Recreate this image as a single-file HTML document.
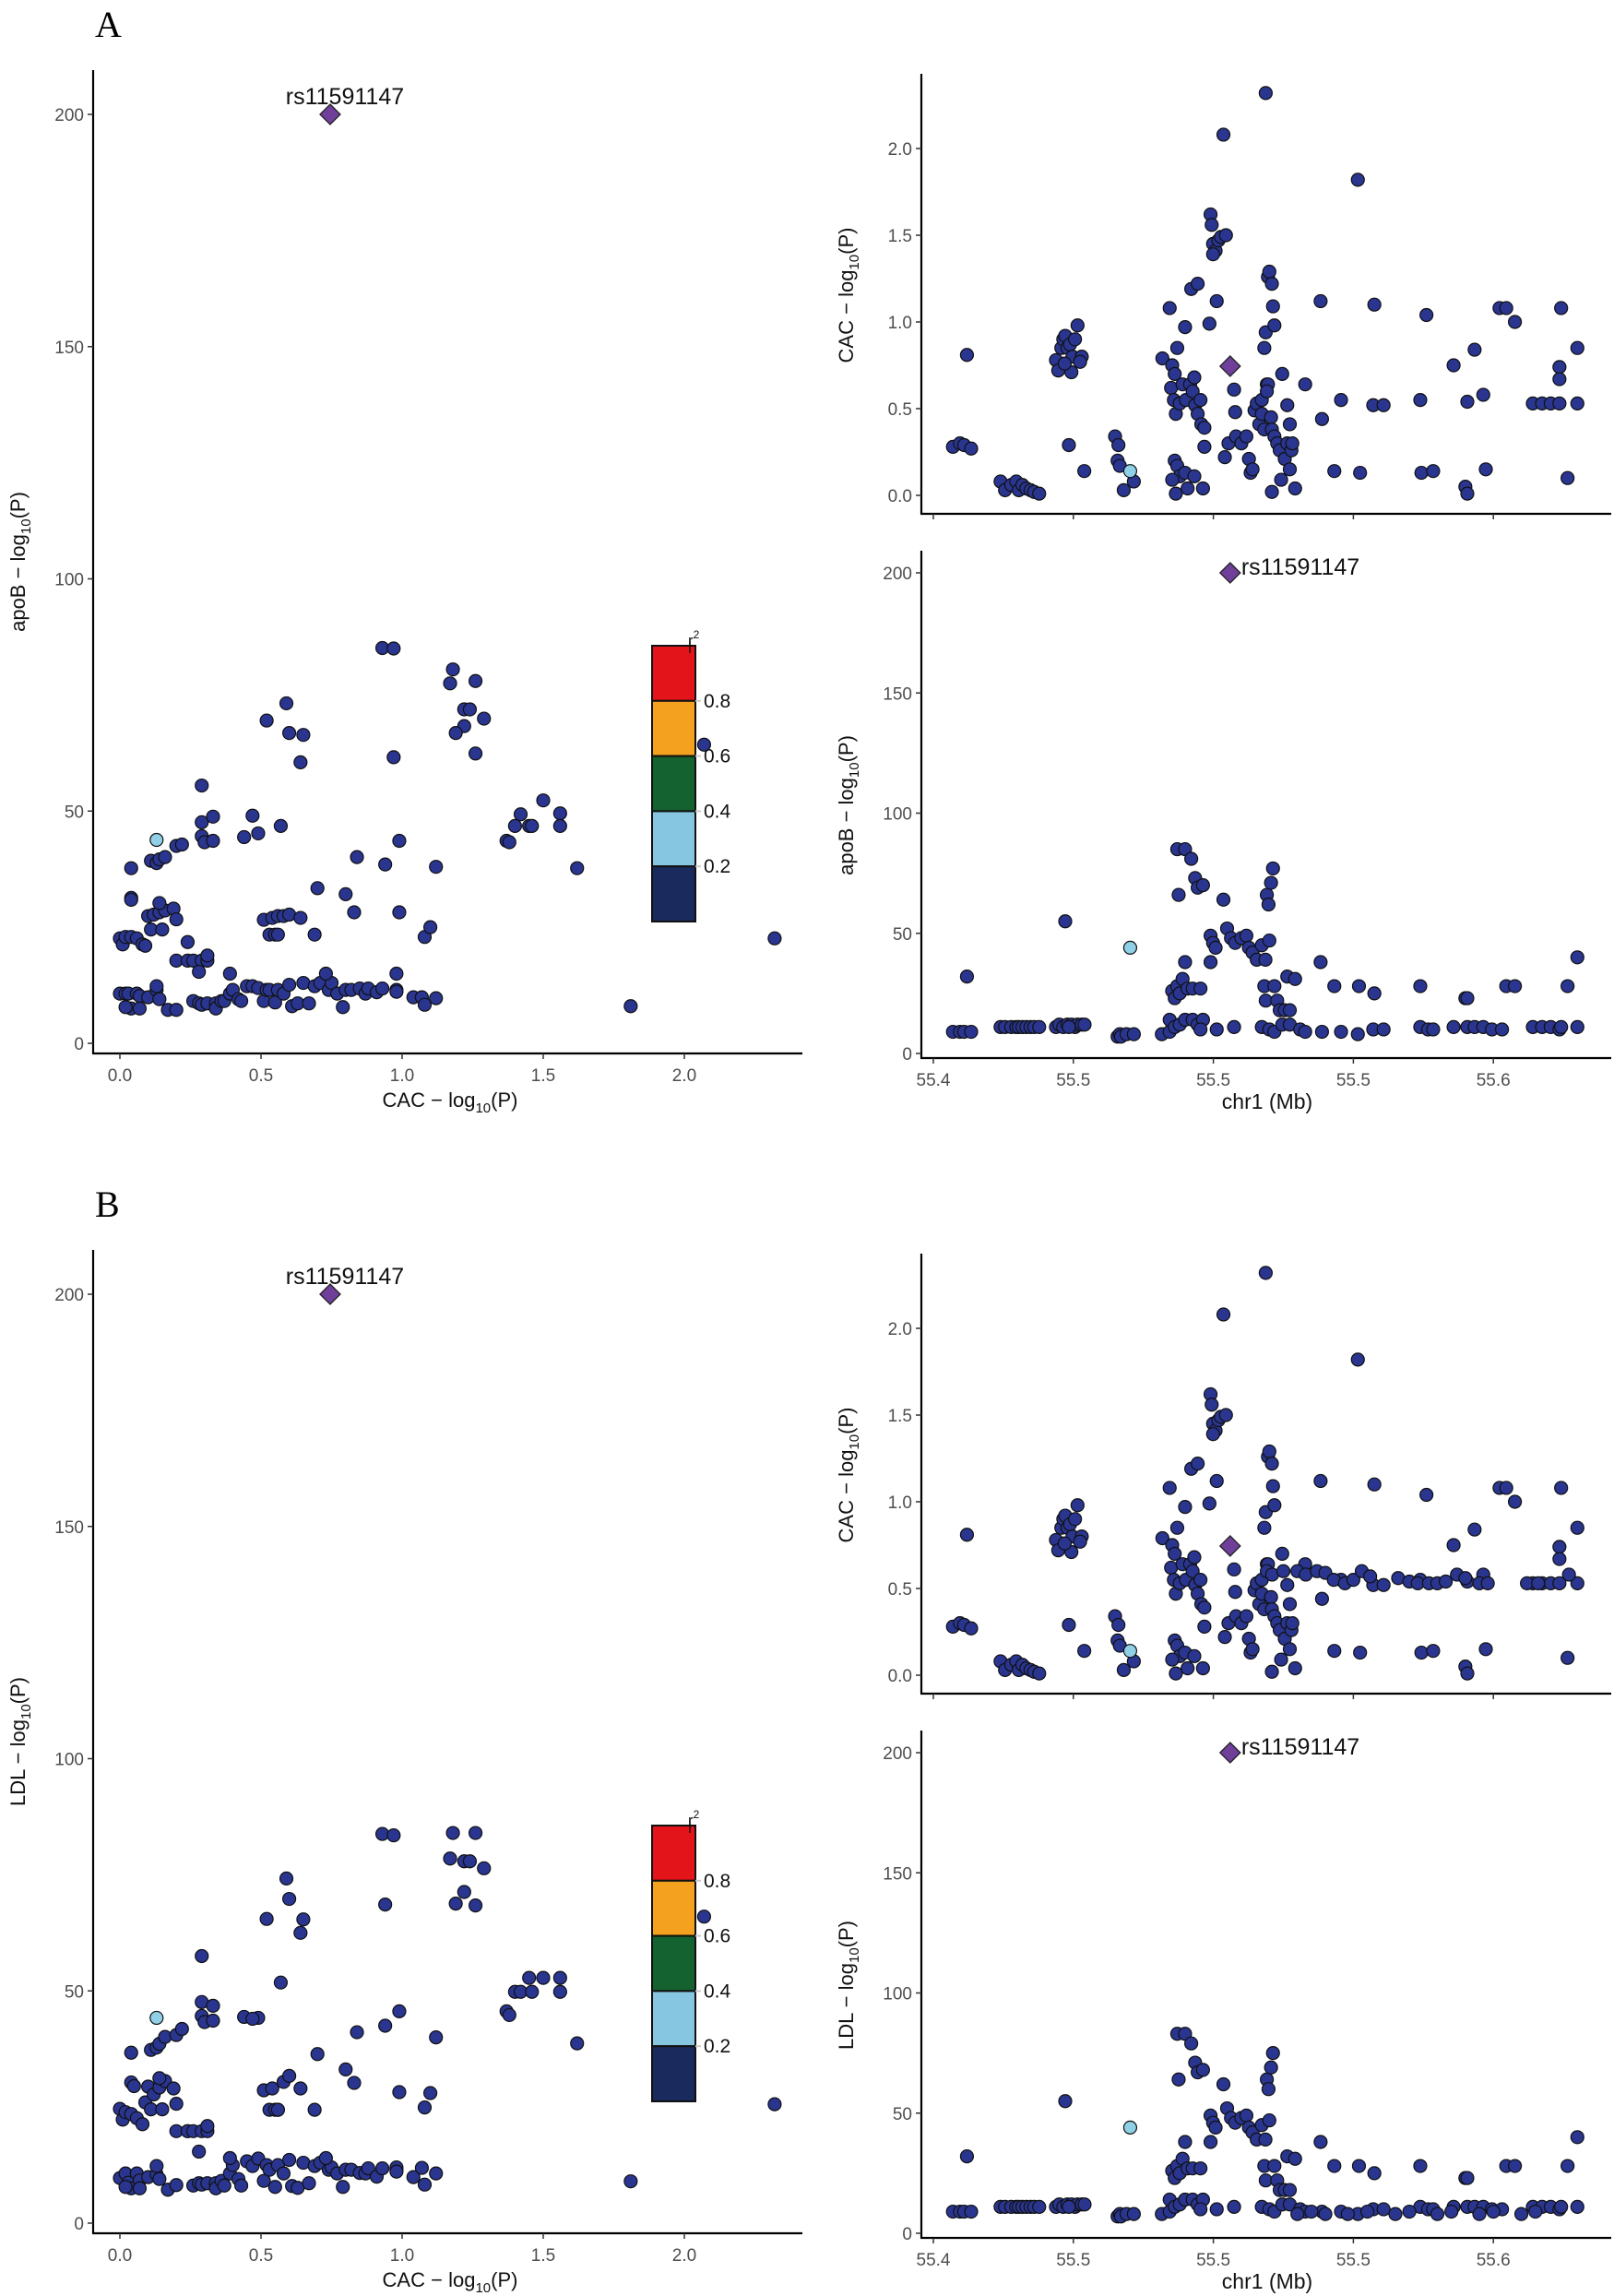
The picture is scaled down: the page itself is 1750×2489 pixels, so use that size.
<!DOCTYPE html>
<html><head><meta charset="utf-8"><style>
html,body{margin:0;padding:0;background:#fff}
svg{display:block}
text{font-family:"Liberation Sans",sans-serif}
</style></head>
<body>
<svg id="fig" width="1750" height="2489" viewBox="0 0 1750 2489" xmlns="http://www.w3.org/2000/svg"></svg>
<script>
// ---------------- DATA ----------------
// Panel A left: CAC -log10(P) vs apoB -log10(P)
const scatterA = [
[0,22.6],[0.01,21.3],[0.02,22.9],[0.04,22.9],[0.06,22.6],[0.08,21.3],[0.09,21],
[0.04,37.7],[0.04,31.3],[0.04,30.9],
[0,10.7],[0.02,10.7],[0.03,10.7],[0.04,7.5],[0.06,10.7],[0.07,10.2],[0.1,9.9],[0.07,7.5],[0.13,11.5],[0.14,9.5],[0.02,7.8],
[0.11,39.3],[0.13,38.8],[0.14,39.6],[0.16,40.1],
[0.1,27.4],[0.12,27.7],[0.14,28.2],[0.16,28.6],[0.14,30.2],[0.19,29],[0.2,26.7],[0.11,24.5],[0.15,24.5],
[0.2,42.5],[0.22,42.8],
[0.13,12.3],[0.17,7.2],[0.2,7.2],[0.24,21.8],[0.2,17.8],[0.24,17.8],[0.26,17.8],[0.29,17.8],[0.31,17.8],[0.31,18.9],[0.28,15.4],
[0.29,55.5],[0.29,47.6],[0.29,44.6],[0.3,43.3],[0.33,48.8],[0.33,43.6],
[0.26,9.1],[0.28,8.6],[0.29,8.3],[0.31,8.6],[0.34,8.6],[0.34,7.5],[0.36,9.1],[0.37,9.1],[0.39,10.7],[0.4,11.5],[0.42,9.5],[0.43,9.1],
[0.45,12.3],[0.47,12.3],[0.49,11.9],[0.51,9.1],[0.52,11.5],[0.53,11.5],[0.55,8.8],[0.56,11.5],[0.58,10.7],[0.6,12.6],[0.61,8],[0.63,8.6],
[0.65,13],[0.67,8.6],[0.69,12.3],[0.71,13],[0.74,11.5],[0.75,13],[0.77,10.7],[0.79,7.8],[0.8,11.5],[0.82,11.5],[0.85,11.8],[0.87,10.7],
[0.88,11.8],[0.91,11],[0.93,11.8],[0.98,11.5],[0.98,15],[0.98,11.1],[1.04,9.9],[1.07,9.9],[1.08,8.3],[1.12,9.7],[0.39,15],[0.73,15],
[0.51,26.6],[0.54,27],[0.56,27.4],[0.58,27.4],[0.6,27.7],[0.64,27],[0.53,23.4],[0.55,23.4],[0.56,23.4],[0.69,23.4],[0.7,33.4],[0.8,32.1],
[0.83,28.2],[0.84,40.1],[0.94,38.5],[0.99,28.2],[0.99,43.6],[1.08,22.9],[1.1,25],[1.12,38],[0.97,61.6],
[0.44,44.4],[0.49,45.2],[0.47,49],[0.57,46.8],
[0.52,69.5],[0.59,73.2],[0.6,66.8],[0.65,66.4],[0.64,60.5],[0.93,85.1],[0.97,85],
[1.18,80.5],[1.17,77.5],[1.26,78],[1.22,71.9],[1.24,71.9],[1.29,69.9],[1.22,68.3],[1.19,66.8],[1.26,62.4],
[1.37,43.6],[1.38,43.3],[1.4,46.8],[1.42,49.3],[1.45,46.8],[1.46,46.8],[1.5,52.3],[1.56,49.5],[1.56,46.8],[1.62,37.7],
[1.81,8],[2.07,64.3],[2.32,22.6]
];
const scatterALight = [[0.13,43.8]];
// Panel B left: CAC vs LDL
const scatterB = [
[0,24.6],[0.01,22.3],[0.02,23.9],[0.04,23.5],[0.06,22.6],[0.08,21.3],[0.09,26],
[0.04,36.7],[0.04,30.3],[0.05,29.5],
[0,9.7],[0.02,10.7],[0.03,8.7],[0.04,7.5],[0.06,10.7],[0.07,9.2],[0.1,9.9],[0.07,7.5],[0.13,10.5],[0.14,9.5],[0.02,7.8],
[0.11,37.3],[0.13,37.8],[0.14,38.6],[0.16,40.1],
[0.1,29.4],[0.12,27.7],[0.14,29.2],[0.16,30.6],[0.14,31.2],[0.19,29],[0.2,25.7],[0.11,24.5],[0.15,24.5],
[0.2,40.5],[0.22,41.8],
[0.13,12.3],[0.17,7.2],[0.2,8.2],[0.24,19.8],[0.2,19.8],[0.24,19.8],[0.26,19.8],[0.29,19.8],[0.31,19.8],[0.31,20.9],[0.28,15.4],
[0.29,57.5],[0.29,47.6],[0.29,44.6],[0.3,43.3],[0.33,46.8],[0.33,43.6],
[0.26,8.1],[0.28,8.6],[0.29,8.3],[0.31,8.6],[0.34,8.6],[0.34,7.5],[0.36,9.1],[0.37,8.1],[0.39,10.7],[0.4,12.5],[0.42,9.5],[0.43,8.1],
[0.45,13.3],[0.47,12.3],[0.49,13.9],[0.51,9.1],[0.52,12.5],[0.53,11.5],[0.55,7.8],[0.56,12.5],[0.58,10.7],[0.6,13.6],[0.61,8],[0.63,7.6],
[0.65,13],[0.67,8.6],[0.69,12.3],[0.71,13],[0.74,11.5],[0.75,12],[0.77,10.7],[0.79,7.8],[0.8,11.5],[0.82,11.5],[0.85,10.8],[0.87,10.7],
[0.88,11.8],[0.91,10],[0.93,11.8],[0.98,11.5],[0.98,12],[0.98,11.1],[1.04,9.9],[1.07,11.9],[1.08,8.3],[1.12,10.7],[0.39,14],[0.73,14],
[0.51,28.6],[0.54,29],[0.56,24.4],[0.58,30.4],[0.6,31.7],[0.64,29],[0.53,24.4],[0.55,24.4],[0.56,24.4],[0.69,24.4],[0.7,36.4],[0.8,33.1],
[0.83,30.2],[0.84,41.1],[0.94,42.5],[0.99,28.2],[0.99,45.6],[1.08,24.9],[1.1,28],[1.12,40],[0.94,68.6],
[0.44,44.4],[0.49,44.2],[0.47,44],[0.57,51.8],
[0.52,65.5],[0.59,74.2],[0.6,69.8],[0.65,65.4],[0.64,62.5],[0.93,83.8],[0.97,83.5],
[1.18,84],[1.17,78.5],[1.26,84],[1.22,77.9],[1.24,77.9],[1.29,76.4],[1.22,71.3],[1.19,68.8],[1.26,68.4],
[1.37,45.6],[1.38,44.8],[1.4,49.8],[1.42,49.8],[1.45,52.8],[1.46,49.8],[1.5,52.8],[1.56,52.8],[1.56,49.8],[1.62,38.7],
[1.81,9],[2.07,66],[2.32,25.6]
];
const scatterBLight = [[0.13,44.2]];
const leadCac = 0.745, leadTrait = 200;

// Panel A right-top: position (kb) vs CAC
const cacByPosA = [
[55407,.28],[55409.5,.3],[55411,.29],[55413.5,.27],[55412,.81],
[55424,.08],[55425.6,.03],[55427.8,.06],[55429.6,.08],[55430.5,.03],[55431.8,.06],[55433.2,.04],[55434.7,.03],[55436,.02],[55437.8,.01],
[55443.8,.78],[55444.6,.72],[55445.7,.85],[55446.4,.9],[55447.1,.92],[55447.9,.85],[55448.8,.87],[55449.7,.8],[55450.6,.9],[55449.3,.71],[55451.5,.98],[55453,.8],[55452.4,.77],[55446.9,.76],[55448.4,.29],[55453.9,.14],
[55464.9,.34],[55466.1,.29],[55465.8,.2],[55466.6,.17],[55468,.03],[55471.6,.08],
[55481.8,.79],[55484.4,1.08],[55485.3,.75],[55486.2,.7],[55484.9,.62],[55485.9,.55],[55486.6,.47],[55488,.53],[55487.1,.85],[55489.9,.97],[55489,.64],[55490.2,.55],[55491.7,.64],[55492.6,.6],[55493.5,.52],[55494.4,.47],[55495.4,.55],[55493.2,.68],[55492.1,1.19],[55494.4,1.22],[55495.7,.41],[55496.8,.39],
[55486.2,.2],[55487.1,.17],[55488,.11],[55486.6,.01],[55485.3,.09],[55489.9,.13],[55490.8,.04],[55493.2,.11],[55496.3,.04],[55496.8,.28],[55498.6,.99],
[55499,1.62],[55499.4,1.56],[55499.9,1.45],[55500.8,1.41],[55501.8,1.47],[55502.7,1.49],[55503.6,2.08],[55504.5,1.5],[55501.2,1.12],[55499.9,1.39],
[55504.1,.22],[55507.4,.61],[55507.8,.48],[55505.4,.3],[55508.1,.34],[55510,.3],[55511.8,.34],[55512.7,.21],[55513.3,.13],[55514,.15],[55514.7,.49],[55515.5,.53],[55516.4,.41],[55517.3,.47],[55518.2,.38],
[55518.7,2.32],[55518.2,.85],[55518.7,.94],[55519.1,.64],[55519.5,1.26],[55520,1.29],[55520.9,1.22],[55521.3,1.09],[55521.8,.98],[55520.6,.45],[55520.9,.38],[55521.8,.34],[55522.8,.3],[55523.7,.26],
[55524.6,.7],[55524.2,.09],[55525.5,.21],[55526.4,.3],[55527.3,.41],[55527.9,.26],[55528.2,.3],[55529.2,.04],[55520.9,.02],[55526.4,.52],[55527.3,.15],[55517.3,.55],[55519.5,.64],[55519.1,.6],
[55532.8,.64],[55538.3,1.12],[55538.8,.44],[55543.2,.14],[55545.6,.55],[55551.6,1.82],[55552.4,.13],[55557.1,.52],[55557.5,1.1],[55560.8,.52],
[55573.9,.55],[55574.3,.13],[55576.1,1.04],[55578.5,.14],[55585.8,.75],[55590,.05],[55590.7,.54],[55590.7,.01],[55593.3,.84],[55596.4,.58],[55597.3,.15],
[55602.2,1.08],[55604.6,1.08],[55607.7,1.0],[55614.1,.53],[55617.4,.53],[55620.5,.53],[55623.6,.53],[55623.6,.74],[55623.6,.67],[55624.2,1.08],[55626.5,.1],[55630,.85],[55630,.53]
];
const cacByPosALight = [[55470.3,.14]];
const cacByPosBExtra = [
[55521,.58],[55525,.6],[55530,.6],[55533,.58],[55537,.6],[55540,.59],[55543,.55],[55547,.53],[55550,.55],[55553,.6],[55556,.57],
[55566,.56],[55570,.54],[55573,.53],[55577,.53],[55580,.53],[55583,.54],[55587,.58],[55590,.56],[55595,.53],[55598,.53],[55612,.53],[55616,.53],[55627,.58]
];
// Panel A right-bottom: position (kb) vs apoB
const apobByPosA = [
[55407,9],[55409.5,9],[55411,9],[55413.5,9],[55412,32],
[55424,11],[55425.6,11],[55427.8,11],[55429.6,11],[55430.5,11],[55431.8,11],[55433.2,11],[55434.7,11],[55436,11],[55437.8,11],
[55443.8,11],[55445,12],[55446.4,11],[55447.9,12],[55449.3,12],[55450.6,11],[55451.5,12],[55453,12],[55454,12],[55448.4,11],[55447.1,55],
[55465.8,7],[55466.6,8],[55467,7],[55469,8],[55471.6,8],
[55481.6,8],[55484.4,9],[55487.1,85],[55489.9,85],[55492.1,81],[55493.5,73],[55494.4,69],[55496.3,70],[55487.6,66],[55489.9,38],
[55485.3,26],[55486.2,23],[55487.1,28],[55488,25],[55489,31],[55490.8,27],[55492.6,27],[55495.4,27],
[55484.4,14],[55486.2,11],[55488,12],[55489.9,14],[55492.6,14],[55494.4,12],[55496.3,14],[55495.4,10],
[55499,38],[55499,49],[55499.9,46],[55500.8,44],[55503.6,64],[55504.9,52],[55506.3,48],[55507.8,46],[55510,48],[55511.8,49],[55512.7,44],[55514,42],[55515.5,39],[55517.3,45],[55518.6,39],
[55507.4,11],[55501.2,10],[55518.2,28],[55518.7,22],[55519.1,66],[55519.7,62],[55520.6,71],[55521.3,77],[55520,47],[55521.8,28],[55522.8,22],[55523.7,18],[55525.5,18],[55527.3,18],[55526.4,32],[55529.2,31],
[55517.3,11],[55520,10],[55521.8,9],[55524.6,12],[55527.3,12],[55531,10],[55532.8,9],
[55538.3,38],[55538.8,9],[55543.2,28],[55545.6,9],[55552,28],[55551.6,8],[55557.1,10],[55557.5,25],[55560.8,10],
[55573.9,28],[55573.9,11],[55576.7,10],[55578.5,10],[55585.8,11],[55590,23],[55590.7,23],[55590.7,11],[55593.3,11],[55596.4,11],[55599.5,10],[55603.1,10],
[55604.6,28],[55607.7,28],[55614.1,11],[55617.4,11],[55620.5,11],[55623.6,10],[55624.2,11],[55626.5,28],[55630,40],[55630,11]
];
const apobByPosALight = [[55470.3,44]];
const ldlByPosBExtra = [[55530,8],[55535,9],[55540,8],[55548,8],[55555,9],[55565,8],[55570,9],[55580,8],[55585,9],[55595,8],[55600,9],[55610,8],[55615,9]];
const leadPos = 55506;

const posTicks = [55400,55450,55500,55550,55600];
const posTickLabels = ["55.4","55.5","55.5","55.5","55.6"];
const cacTicks = [0,0.5,1,1.5,2];
const traitTicks = [0,50,100,150,200];
const legendBreaks = ["0.8","0.6","0.4","0.2"];
const legendColors = ["#e3151b","#f3a11e","#14622f","#86c6e0","#1a2a5c"];

// --------------- DRAWING ---------------
const NS = "http://www.w3.org/2000/svg";
const svg = document.getElementById("fig");
function el(tag, attrs, parent){
  const e = document.createElementNS(NS, tag);
  for (const k in attrs) e.setAttribute(k, attrs[k]);
  (parent||svg).appendChild(e);
  return e;
}
const NAVY = "#29358f", LIGHT = "#8fd0e6", LEAD = "#6f3f9a";

function dot(g, x, y, fill, name){
  const c = el("circle", {cx:x, cy:y, r:7, fill:fill, stroke:"#111", "stroke-width":1.2}, g);
  
  
}
function diamond(g, x, y){
  const p = el("polygon", {points:`${x},${y-11} ${x+11},${y} ${x},${y+11} ${x-11},${y}`, fill:LEAD, stroke:"#222", "stroke-width":1.3}, g);
  
  
}
function ytitle(g, x, cy, main, name){
  const t = el("text", {x:0, y:0, transform:`translate(${x},${cy}) rotate(-90)`, "text-anchor":"middle", "font-size":22, fill:"#111"}, g);
  
  
  t.innerHTML = `${main} − log<tspan font-size="15" dy="6">10</tspan><tspan dy="-6">(P)</tspan>`;
}
function axisFrame(g, x0, x1, yTop, yBot){
  const ya = el("line", {x1:x0, y1:yTop, x2:x0, y2:yBot, stroke:"#000", "stroke-width":2.2}, g);
  
  
  const xa = el("line", {x1:x0-1, y1:yBot, x2:x1, y2:yBot, stroke:"#000", "stroke-width":2.2}, g);
  
  
}
function yTicks(g, x0, ticks, ymap, fmt){
  ticks.forEach(v => {
    const y = ymap(v);
    el("line", {x1:x0-6, y1:y, x2:x0, y2:y, stroke:"#333", "stroke-width":1.5}, g);
    const t = el("text", {x:x0-10, y:y+7, "text-anchor":"end", "font-size":19, fill:"#4d4d4d"}, g);
    
    
    t.textContent = fmt(v);
  });
}
function xTicks(g, yBot, ticks, xmap, labels){
  ticks.forEach((v,i) => {
    const x = xmap(v);
    el("line", {x1:x, y1:yBot, x2:x, y2:yBot+6, stroke:"#333", "stroke-width":1.5}, g);
    if (labels){
      const t = el("text", {x:x, y:yBot+30, "text-anchor":"middle", "font-size":19, fill:"#4d4d4d"}, g);
      
      
      t.textContent = labels[i];
    }
  });
}

function panel(dy, trait, letter, sc, scLight, topData, topLight, botData, botLight){
  const root = el("g", {transform:`translate(0,${dy})`});
  
  

  const L = el("text", {x:103, y:40, "font-size":40, fill:"#000", style:'font-family:"Liberation Serif",serif'}, root);
  
  
  L.textContent = letter;

  // ---- left scatter ----
  const gl = el("g", {}, root);
  
  
  const lx = v => 130 + v*306, ly = v => 1131 - v*5.035;
  axisFrame(gl, 101, 870, 76, 1142);
  yTicks(gl, 101, traitTicks, ly, v => String(v));
  xTicks(gl, 1142, cacTicks, lx, cacTicks.map(v => v.toFixed(1)));
  sc.forEach(p => dot(gl, lx(p[0]), ly(p[1]), NAVY, 'snp-point'));
  scLight.forEach(p => dot(gl, lx(p[0]), ly(p[1]), LIGHT, 'snp-point-ld-low'));
  diamond(gl, lx(leadCac), ly(leadTrait));
  const rl = el("text", {x:lx(leadCac)+16, y:ly(leadTrait)-11, "text-anchor":"middle", "font-size":25, fill:"#111"}, gl);
  
  
  rl.textContent = "rs11591147";
  ytitle(gl, 27, 609, trait, 'y-axis-title');
  const xt = el("text", {x:488, y:1200, "text-anchor":"middle", "font-size":22, fill:"#111"}, gl);
  
  
  xt.innerHTML = 'CAC − log<tspan font-size="15" dy="6">10</tspan><tspan dy="-6">(P)</tspan>';

  // legend
  const lg = el("g", {}, gl);
  
  
  const segH = 59.8, lt = 700;
  legendColors.forEach((c,i) => {
    const r = el("rect", {x:707, y:lt+i*segH, width:47, height:segH, fill:c, stroke:"#111", "stroke-width":2}, lg);
    
    
  });
  legendBreaks.forEach((s,i) => {
    const y = lt + (i+1)*segH;
    el("line", {x1:754, y1:y, x2:760, y2:y, stroke:"#ccc", "stroke-width":2}, lg);
    const t = el("text", {x:763, y:y+7, "font-size":21, fill:"#111"}, lg);
    
    
    t.textContent = s;
  });
  el("line", {x1:748, y1:695, x2:748, y2:708, stroke:"#111", "stroke-width":1.5}, lg);
  const r2 = el("text", {x:746, y:700, "font-size":17, fill:"#111"}, lg);
  
  
  r2.innerHTML = 'r<tspan font-size="12" dy="-8">2</tspan>';

  // ---- right top: CAC by position ----
  const px = v => 1012 + (v-55400)/50*151.8;
  const gt = el("g", {}, root);
  
  
  const ty = v => 537 - v*188;
  axisFrame(gt, 999, 1747, 80, 557);
  yTicks(gt, 999, cacTicks, ty, v => v.toFixed(1));
  xTicks(gt, 557, posTicks, px, null);
  topData.forEach(p => dot(gt, px(p[0]), ty(p[1]), NAVY, 'snp-point'));
  topLight.forEach(p => dot(gt, px(p[0]), ty(p[1]), LIGHT, 'snp-point-ld-low'));
  diamond(gt, px(leadPos), ty(leadCac));
  ytitle(gt, 925, 320, "CAC", 'y-axis-title');

  // ---- right bottom: trait by position ----
  const gb = el("g", {}, root);
  
  
  const by = v => 1142 - v*2.605;
  axisFrame(gb, 999, 1747, 597, 1147);
  yTicks(gb, 999, traitTicks, by, v => String(v));
  xTicks(gb, 1147, posTicks, px, posTickLabels);
  botData.forEach(p => dot(gb, px(p[0]), by(p[1]), NAVY, 'snp-point'));
  botLight.forEach(p => dot(gb, px(p[0]), by(p[1]), LIGHT, 'snp-point-ld-low'));
  diamond(gb, px(leadPos), by(leadTrait));
  const rb = el("text", {x:px(leadPos)+12, y:by(leadTrait)+2, "font-size":25, fill:"#111"}, gb);
  
  
  rb.textContent = "rs11591147";
  ytitle(gb, 925, 873, trait, 'y-axis-title');
  const ct = el("text", {x:1374, y:1202, "text-anchor":"middle", "font-size":23, fill:"#111"}, gb);
  
  
  ct.textContent = "chr1 (Mb)";
}

panel(0, "apoB", "A", scatterA, scatterALight, cacByPosA, cacByPosALight, apobByPosA, apobByPosALight);
panel(1279, "LDL", "B", scatterB, scatterBLight, cacByPosA.concat(cacByPosBExtra), cacByPosALight,
      apobByPosA.map(p => [p[0], p[1] < 60 ? p[1] : p[1]-2]).concat(ldlByPosBExtra), apobByPosALight);
</script>
</body></html>
